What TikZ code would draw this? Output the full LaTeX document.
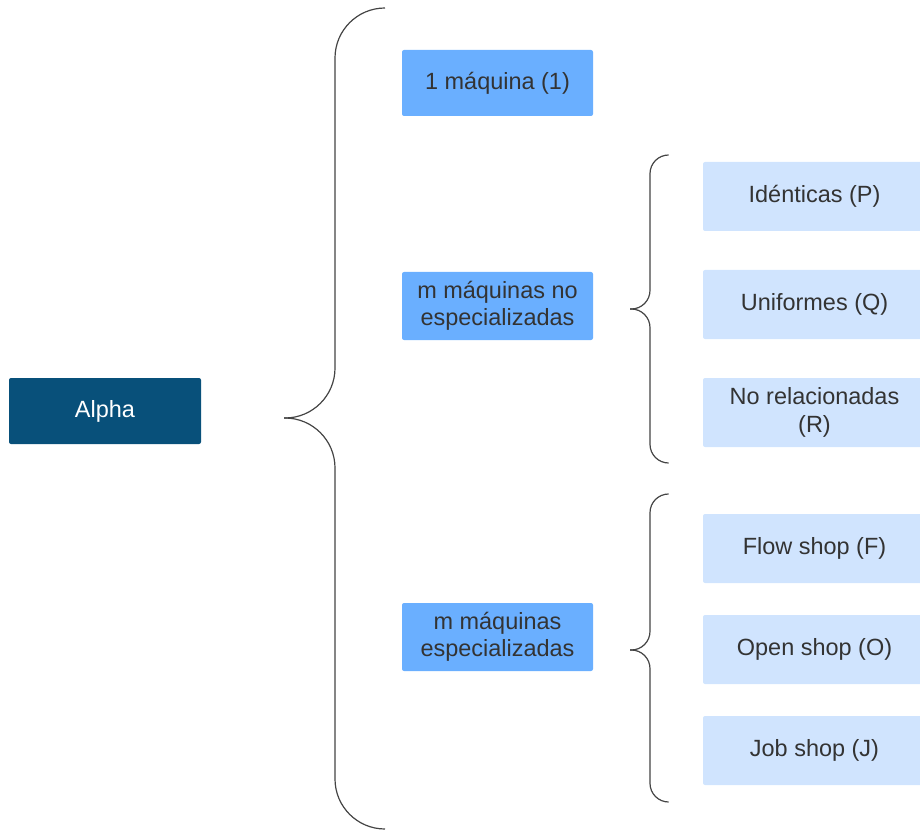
\documentclass[tikz,border=0pt]{standalone}
\usepackage{fontspec}
\setmainfont{Liberation Sans}
\definecolor{darkb}{HTML}{08507A}
\definecolor{midb}{HTML}{6AAFFF}
\definecolor{lightb}{HTML}{D0E4FE}
\definecolor{txt}{HTML}{333333}
\definecolor{brc}{HTML}{444444}
\begin{document}
\begin{tikzpicture}[x=0.75pt,y=-0.75pt,
  box/.style={rounded corners=1.5pt,inner sep=0pt,align=center,font=\fontsize{17.6}{20.5}\selectfont,text=txt},
  leaf/.style={box,fill=lightb,minimum width=223*0.75pt,minimum height=69*0.75pt},
  brace/.style={draw=brc,line width=0.9pt}]
\useasboundingbox (0,0) rectangle (920,830);
\node[box,fill=darkb,text=white,minimum width=192*0.75pt,minimum height=66*0.75pt] (alpha) at (105,411) {Alpha};
\node[box,fill=midb,minimum width=191*0.75pt,minimum height=66*0.75pt] (one) at (497.5,83) {1 máquina (1)};
\node[box,fill=midb,minimum width=191*0.75pt,minimum height=68*0.75pt] (noesp) at (497.5,306) {m máquinas no\\especializadas};
\node[box,fill=midb,minimum width=191*0.75pt,minimum height=68*0.75pt] (esp) at (497.5,637) {m máquinas\\especializadas};
\node[leaf] (P) at (814.5,196.5) {Idénticas (P)};
\node[leaf] (Q) at (814.5,304.5) {Uniformes (Q)};
\node[leaf] (R) at (814.5,412.5) {No relacionadas\\(R)};
\node[leaf] (F) at (814.5,548.5) {Flow shop (F)};
\node[leaf] (O) at (814.5,649.5) {Open shop (O)};
\node[leaf] (J) at (814.5,750.5) {Job shop (J)};
% big brace
\draw[brace,rounded corners=37.5pt] (385,8) -- (335,8) -- (335,418) -- (284,418);
\draw[brace,rounded corners=37.5pt] (284,418) -- (335,418) -- (335,829) -- (385,829);
% small brace 1
\draw[brace,rounded corners=14pt] (668,155) -- (650,155) -- (650,309) -- (630,309);
\draw[brace,rounded corners=14pt] (630,309) -- (650,309) -- (650,463) -- (668,463);
% small brace 2
\draw[brace,rounded corners=14pt] (668,494) -- (650,494) -- (650,650) -- (630,650);
\draw[brace,rounded corners=14pt] (630,650) -- (650,650) -- (650,802) -- (668,802);
\end{tikzpicture}
\end{document}
